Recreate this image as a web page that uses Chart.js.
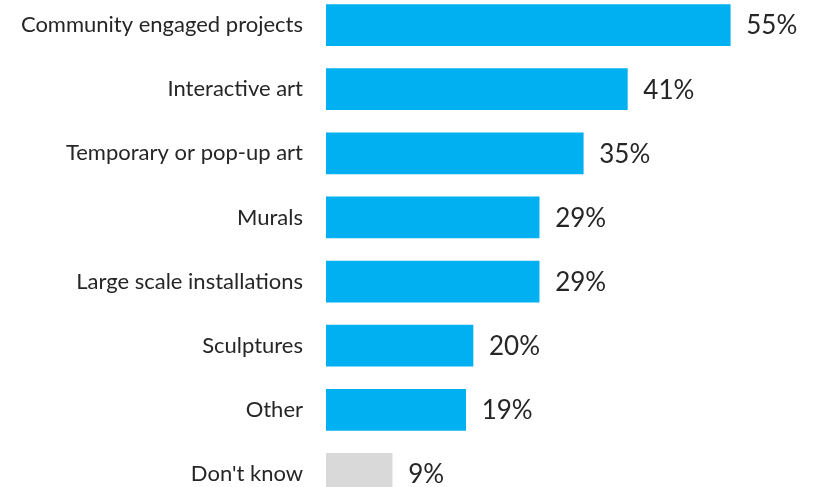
<!DOCTYPE html>
<html>
<head>
<meta charset="utf-8">
<script src="https://cdn.jsdelivr.net/npm/chart.js@4.4.1/dist/chart.umd.min.js"></script>
<style>
  html, body { margin: 0; padding: 0; background: #fff; overflow: hidden; }
  #chart { position: absolute; left: 0; top: -7px; }
</style>
</head>
<body>
<canvas id="chart" width="817" height="513"></canvas>
<script>
// dados
const categorias = [
    'Community engaged projects',
    'Interactive art',
    'Temporary or pop-up art',
    'Murals',
    'Large scale installations',
    'Sculptures',
    'Other',
    "Don't know"
];
const valores = [55, 41, 35, 29, 29, 20, 19, 9];
const cores = ['#00B0F0', '#00B0F0', '#00B0F0', '#00B0F0', '#00B0F0', '#00B0F0', '#00B0F0', '#D9D9D9'];

// rótulos de valor à direita de cada barra
const rotulosValor = {
    id: 'rotulosValor',
    afterDatasetsDraw(chart) {
        const ctx = chart.ctx;
        const meta = chart.getDatasetMeta(0);
        ctx.save();
        ctx.font = "26px Lato, sans-serif";
        ctx.fillStyle = '#262626';
        ctx.textAlign = 'left';
        ctx.textBaseline = 'middle';
        meta.data.forEach((bar, i) => {
            ctx.fillText(valores[i] + '%', bar.x + 16, bar.y + 1);
        });
        ctx.restore();
    }
};

new Chart(document.getElementById('chart').getContext('2d'), {
    type: 'bar',
    data: {
        labels: categorias,
        datasets: [{
            data: valores,
            backgroundColor: cores,
            borderWidth: 0,
            barThickness: 41
        }]
    },
    options: {
        indexAxis: 'y',
        responsive: false,
        animation: false,
        layout: { padding: { top: 0, bottom: 0, left: 0, right: 50 } },
        plugins: {
            legend: { display: false },
            tooltip: { enabled: false }
        },
        scales: {
            x: {
                min: 0,
                max: 60,
                display: false,
                grid: { display: false }
            },
            y: {
                // largura fixa e sem folga vertical para os rótulos
                afterFit: (s) => { s.width = 326; s.paddingTop = 0; s.paddingBottom = 0; },
                grid: { display: false, drawTicks: false },
                border: { display: false },
                ticks: {
                    color: '#262626',
                    padding: 23,
                    font: { family: 'Lato, sans-serif', size: 22 }
                }
            }
        }
    },
    plugins: [rotulosValor]
});
</script>
</body>
</html>
